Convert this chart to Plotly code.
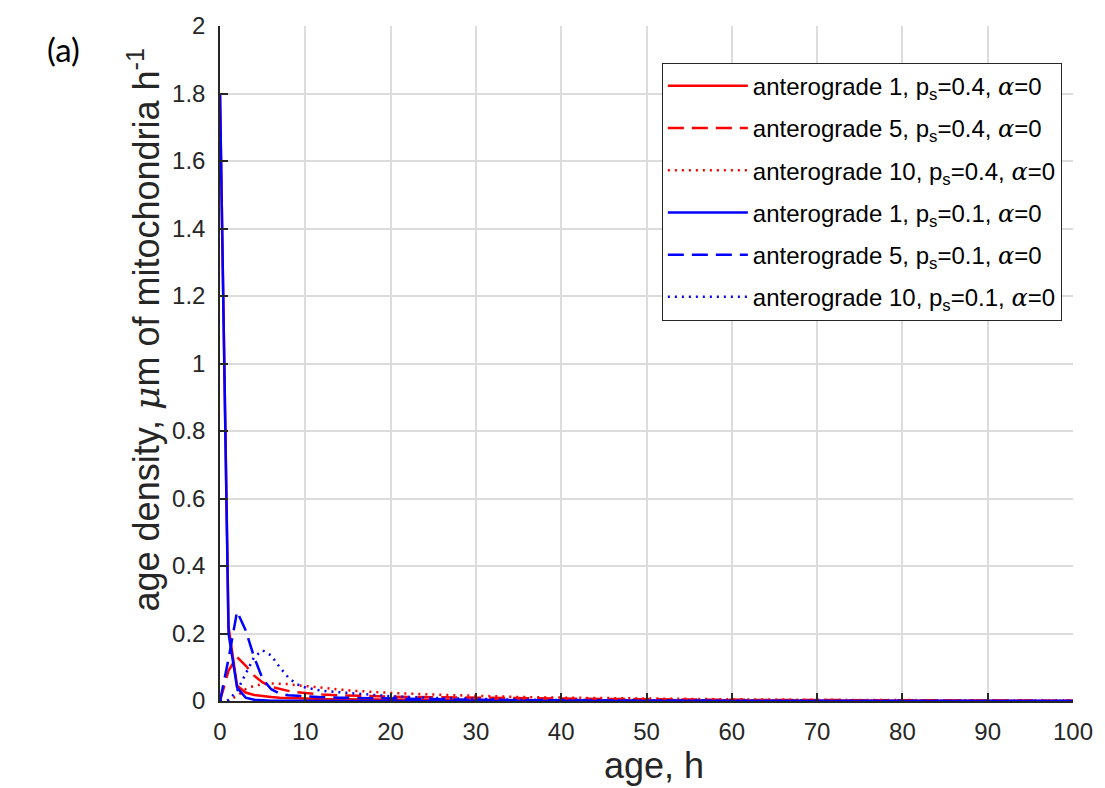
import plotly.graph_objects as go

# Ages (h) at which the densities are sampled
ages = [0, 1, 2, 3, 4, 5, 6, 7, 8, 9, 10, 12, 14, 16, 18, 20, 25, 30, 35, 40,
        50, 60, 70, 80, 90, 100]

# Age densities (um of mitochondria per h)
ant1_ps04 = [1.8, 0.22, 0.045, 0.025, 0.018, 0.014, 0.012, 0.010, 0.009, 0.008,
             0.007, 0.006, 0.0055, 0.005, 0.0045, 0.004, 0.0033, 0.0027, 0.0022,
             0.0018, 0.0012, 0.0008, 0.0005, 0.0003, 0.0002, 0.0001]
ant5_ps04 = [0.0, 0.09, 0.13, 0.105, 0.075, 0.055, 0.042, 0.035, 0.030, 0.026,
             0.023, 0.019, 0.017, 0.015, 0.014, 0.013, 0.011, 0.0095, 0.008,
             0.007, 0.005, 0.0035, 0.0025, 0.0017, 0.0012, 0.0008]
ant10_ps04 = [0.0, 0.002, 0.015, 0.035, 0.045, 0.050, 0.052, 0.052, 0.050, 0.047,
              0.044, 0.038, 0.034, 0.030, 0.027, 0.024, 0.019, 0.015, 0.012,
              0.010, 0.007, 0.005, 0.0035, 0.0025, 0.0017, 0.0012]
ant1_ps01 = [1.8, 0.20, 0.040, 0.010, 0.004, 0.002, 0.001, 0.0006, 0.0004, 0.0003,
             0.0002, 0.0001, 0.0001, 0, 0, 0, 0, 0, 0, 0, 0, 0, 0, 0, 0, 0]
ant5_ps01 = [0.0, 0.125, 0.265, 0.21, 0.13, 0.065, 0.035, 0.022, 0.017, 0.015,
             0.013, 0.011, 0.010, 0.009, 0.008, 0.007, 0.005, 0.0035, 0.0025,
             0.0015, 0.0007, 0.0003, 0.0001, 0, 0, 0]
ant10_ps01 = [0.0, 0.003, 0.03, 0.08, 0.13, 0.15, 0.135, 0.10, 0.07, 0.05,
              0.04, 0.03, 0.026, 0.022, 0.018, 0.014, 0.009, 0.006, 0.004,
              0.003, 0.0015, 0.0007, 0.0003, 0.0002, 0.0001, 0]

SANS = "Liberation Sans, Arial, sans-serif"
GREEK = "<span style=\"font-family:'DejaVu Serif', 'Liberation Serif', serif; font-style:italic\">{}</span>"
ALPHA = GREEK.format("α")
MU = GREEK.format("μ")

series = [
    (f"anterograde 1, p<sub>s</sub>=0.4, {ALPHA}=0", ant1_ps04, "#ff0000", "solid"),
    (f"anterograde 5, p<sub>s</sub>=0.4, {ALPHA}=0", ant5_ps04, "#ff0000", "16px,8px"),
    (f"anterograde 10, p<sub>s</sub>=0.4, {ALPHA}=0", ant10_ps04, "#ff0000", "2px,5px"),
    (f"anterograde 1, p<sub>s</sub>=0.1, {ALPHA}=0", ant1_ps01, "#0000ff", "solid"),
    (f"anterograde 5, p<sub>s</sub>=0.1, {ALPHA}=0", ant5_ps01, "#0000ff", "16px,8px"),
    (f"anterograde 10, p<sub>s</sub>=0.1, {ALPHA}=0", ant10_ps01, "#0000ff", "2px,5px"),
]

fig = go.Figure()
for i, (name, vals, color, dash) in enumerate(series):
    fig.add_trace(go.Scatter(
        x=ages, y=vals, mode="lines", name=name, legendgroup=f"g{i}",
        line=dict(color=color, width=2.5, dash=dash),
    ))

tick_font = dict(family=SANS, size=24, color="#262626")
title_font = dict(family=SANS, size=36, color="#262626")

# Plot-area geometry in pixels
W, H = 1105, 788
L, R, T, B = 220, 24, 21, 87
pw, ph = W - L - R, H - T - B


def px_x(x):
    return (x - L) / pw


def px_y(y):
    return (H - B - y) / ph


common_axis = dict(
    showgrid=True, gridcolor="#dcdcdc", gridwidth=1.5,
    showline=True, linecolor="#262626", linewidth=1.5,
    ticks="inside", ticklen=8, tickcolor="#262626", tickwidth=1.5,
    zeroline=False, tickfont=tick_font,
)

fig.update_layout(
    width=W, height=H,
    margin=dict(l=L, r=R, t=T, b=B),
    paper_bgcolor="white", plot_bgcolor="white",
    font=tick_font,
    showlegend=True,
    legend=dict(
        x=px_x(666), y=px_y(58), xanchor="left", yanchor="top",
        bgcolor="white", bordercolor="#262626", borderwidth=1,
        font=dict(family=SANS, size=24, color="#000000"),
        itemwidth=80, tracegroupgap=8, traceorder="grouped",
    ),
    xaxis=dict(range=[0, 100], dtick=10, tick0=0, ticklabelstandoff=8, **common_axis),
    yaxis=dict(range=[0, 2], dtick=0.2, tick0=0, ticklabelstandoff=8, **common_axis),
    annotations=[
        dict(text="(a)", x=px_x(62), y=px_y(44), xref="paper", yref="paper",
             xanchor="center", yanchor="middle", showarrow=False,
             font=dict(family="Lato, Open Sans, sans-serif", size=33, color="#000000")),
        dict(text="age, h", x=px_x(658), y=px_y(766), xref="paper", yref="paper",
             xanchor="center", yanchor="middle", showarrow=False, font=title_font),
        dict(text=f"age density, {MU}m of mitochondria h<sup>-1</sup>",
             x=px_x(143), y=px_y(327), xref="paper", yref="paper", textangle=-90,
             xanchor="center", yanchor="middle", showarrow=False, font=title_font),
    ],
)

fig.write_html("out.html")
